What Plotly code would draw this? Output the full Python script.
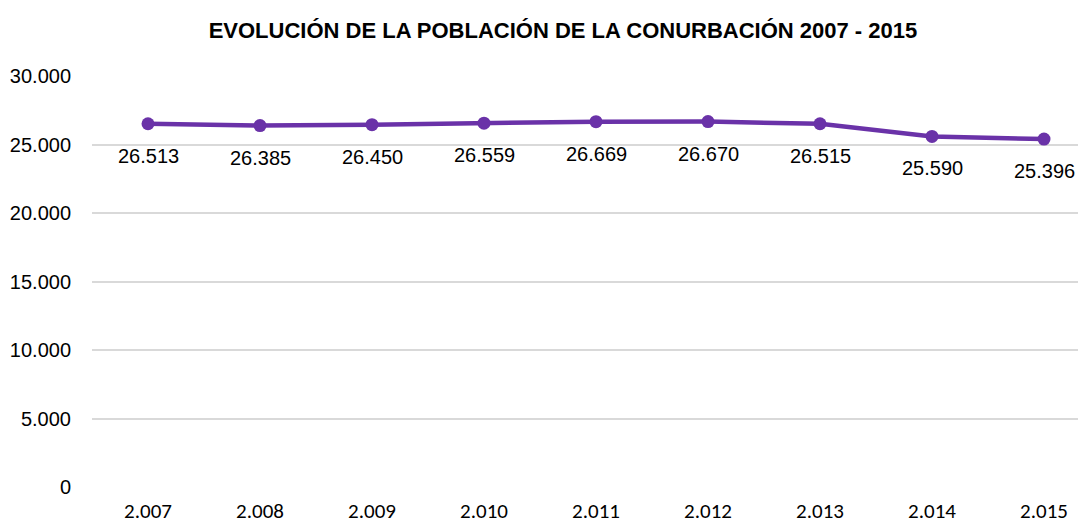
import plotly.graph_objects as go

years = ["2.007", "2.008", "2.009", "2.010", "2.011", "2.012", "2.013", "2.014", "2.015"]
population = [26513, 26385, 26450, 26559, 26669, 26670, 26515, 25590, 25396]
y_ticks = [0, 5000, 10000, 15000, 20000, 25000, 30000]
y_tick_labels = ["0", "5.000", "10.000", "15.000", "20.000", "25.000", "30.000"]
title = "EVOLUCIÓN DE LA POBLACIÓN DE LA CONURBACIÓN 2007 - 2015"

narrow = "Liberation Sans Narrow, Arial Narrow, Liberation Sans, sans-serif"
color = "#6A32A8"
positions = list(range(len(years)))

fig = go.Figure()
fig.add_trace(go.Scatter(
    x=positions, y=population, mode="lines+markers",
    line=dict(color=color, width=4.5),
    marker=dict(color=color, size=13),
    hoverinfo="skip",
))

def fmt(v):
    return f"{v:,}".replace(",", ".")

annotations = [
    dict(x=x, y=y, xref="x", yref="y", text=fmt(y), showarrow=False,
         yshift=-32, font=dict(family=narrow, size=20, color="#000000"))
    for x, y in zip(positions, population)
]

fig.update_layout(
    width=1086, height=527,
    margin=dict(l=84, r=8, t=68, b=48),
    paper_bgcolor="white", plot_bgcolor="white",
    showlegend=False,
    title=dict(text=f"<b>{title}</b>", x=0.511, xref="container", xanchor="center",
               y=0.958, yref="container", yanchor="middle",
               font=dict(family=narrow, size=22, color="#000000")),
    xaxis=dict(range=[-0.5, 8.375], tickvals=positions, ticktext=years,
               showgrid=False, showline=False, automargin=False,
               zeroline=False, ticks="outside", ticklen=5, tickcolor="rgba(0,0,0,0)",
               tickfont=dict(family="Carlito, Lato, sans-serif", size=21, color="#000000")),
    yaxis=dict(range=[0, 30000], tickvals=y_ticks, ticktext=y_tick_labels,
               showgrid=True, gridcolor="#D9D9D9", gridwidth=1.5, zeroline=False,
               showline=False, ticks="outside", ticklen=16, tickcolor="rgba(0,0,0,0)",
               automargin=False,
               tickfont=dict(family=narrow, size=20, color="#000000")),
    annotations=annotations,
)

fig.write_html("out.html")
